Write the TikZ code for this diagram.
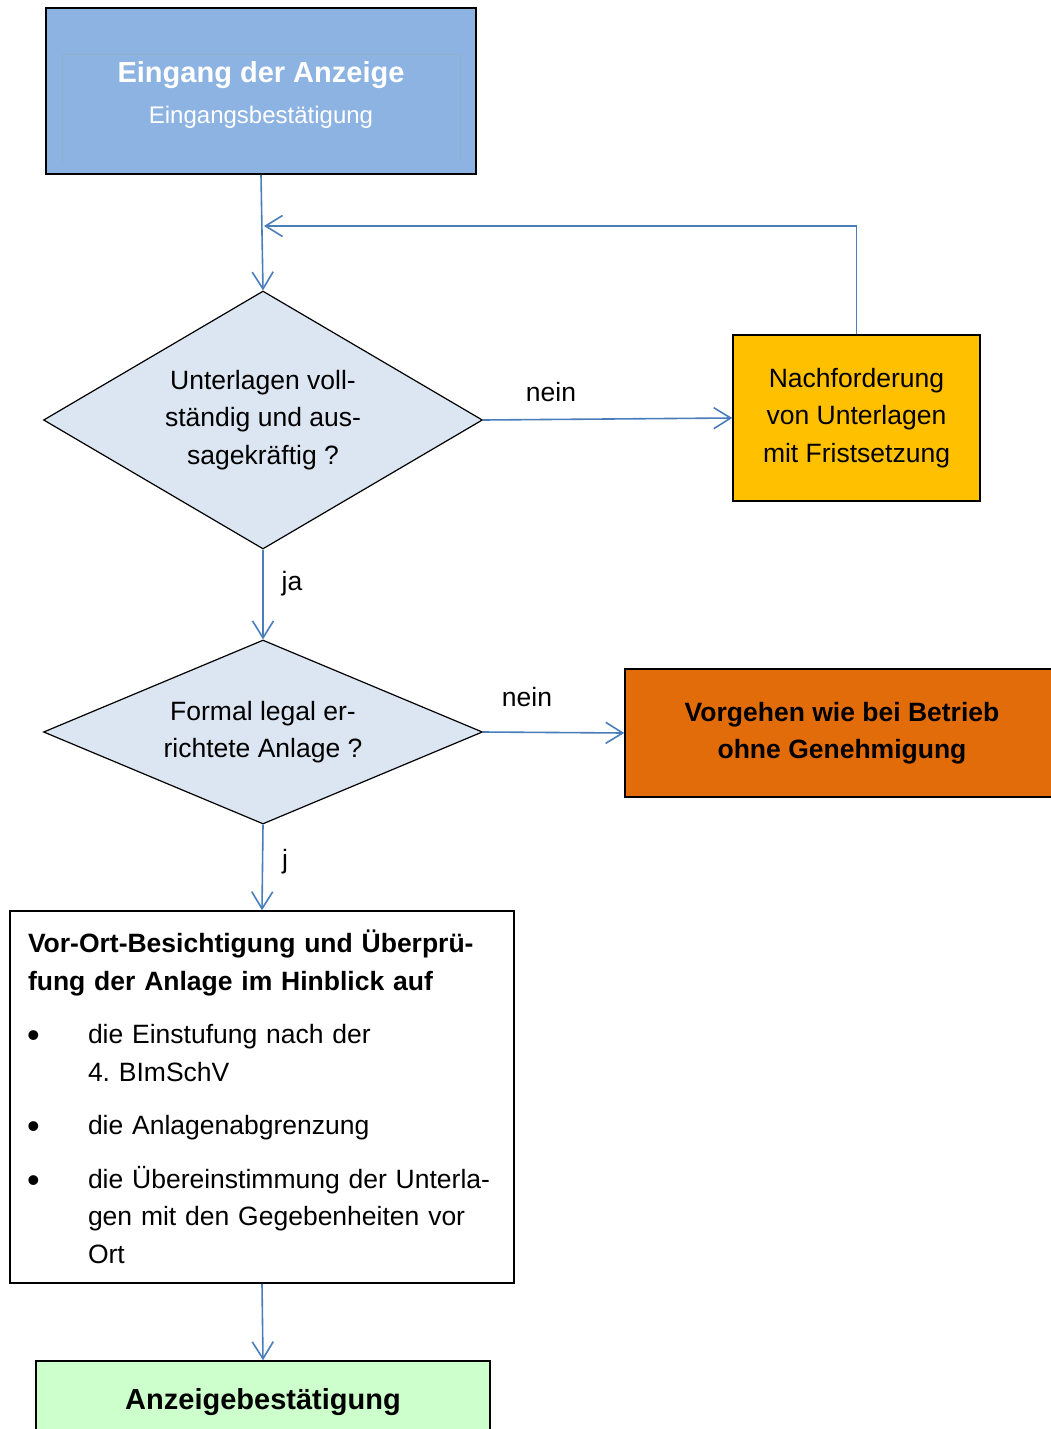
\documentclass[tikz,border=0pt]{standalone}
\usepackage{fontspec}
\setmainfont{Liberation Sans}
\usetikzlibrary{shapes.geometric}
\usetikzlibrary{arrows.meta}
\definecolor{eingangblau}{RGB}{141,179,226}
\definecolor{rautenblau}{RGB}{220,230,242}
\definecolor{gelb}{RGB}{255,192,0}
\definecolor{orange}{RGB}{227,108,10}
\definecolor{gruen}{RGB}{204,255,204}
\definecolor{pfeilblau}{RGB}{74,126,187}
\tikzset{box/.style={draw=black,line width=1.5pt,rectangle,inner sep=0pt,align=center,
    font=\fontsize{26.5}{37.5}\selectfont}}
\tikzset{raute/.style={draw=black,line width=1.2pt,diamond,fill=rautenblau,inner sep=0pt,align=center,
    font=\fontsize{26.5}{37.5}\selectfont}}
\tikzset{pfeil/.style={draw=pfeilblau,line width=1.6pt,-{Straight Barb[length=17pt,width=21pt,line width=1.6pt]}}}
\tikzset{marke/.style={font=\fontsize{26.5}{32}\selectfont}}
\newcommand{\einzug}{\makebox[60pt][l]{\hspace*{-1pt}\raisebox{-4pt}{\fontsize{36}{36}\selectfont\textbullet}}}

\begin{document}
\begin{tikzpicture}[x=1pt,y=-1pt]
                \useasboundingbox (0,0) rectangle (1051,1429);

                % Kaesten
                \node[box,fill=eingangblau,minimum width=430,minimum height=166] (eingang) at (261,91) {};
                \draw[color=eingangblau!85!black!80,line width=0.8pt] (62,164) -- (62,54) -- (460,54) -- (460,164);
                \node[align=center,text=white,inner sep=0pt,font=\fontsize{24}{35}\selectfont] (eingangtext) at (261,95)
                    {{\fontsize{29}{35}\selectfont\bfseries Eingang der Anzeige}\\[6pt]
                     Eingangsbestätigung};

                \node[raute,shape aspect=1.7,minimum width=439,minimum height=258] (pruef) at (263,420)
                    {Unterlagen voll-\\ständig und aus-\\sagekräftig ?};
                \node[box,fill=gelb,minimum width=247,minimum height=166] (nachf) at (856.5,418)
                    {Nachforderung\\von Unterlagen\\mit Fristsetzung};

                \node[raute,shape aspect=2.39,minimum width=439,minimum height=184] (legal) at (263,732)
                    {Formal legal er-\\richtete Anlage ?};
                \node[box,fill=orange,minimum width=434,minimum height=128,font=\fontsize{26.5}{37.5}\selectfont\bfseries] (vorgehen) at (842,733)
                    {Vorgehen wie bei Betrieb\\ohne Genehmigung};

                \node[box,fill=white,text width=468,inner xsep=18pt,minimum height=372,align=left] (besicht) at (262,1097)
                    {\textbf{Vor-Ort-Besichtigung und Überprü-}\\
                     \textbf{fung der Anlage im Hinblick auf}\\[16pt]
                     \einzug die Einstufung nach der\\
                     \hspace*{60pt}4.\ BImSchV\\[16pt]
                     \einzug die Anlagenabgrenzung\\[16pt]
                     \einzug die Übereinstimmung der Unterla-\\
                     \hspace*{60pt}gen mit den Gegebenheiten vor\\
                     \hspace*{60pt}Ort};

                \node[box,fill=gruen,minimum width=454,minimum height=82,font=\fontsize{29}{35}\selectfont\bfseries] (bestaet) at (263,1402)
                    {Anzeigebestätigung};

                % Pfeile
                \coordinate (rueck) at (264,226);
                \draw[pfeil] (eingang.south) -- (pruef.north);
                \draw[pfeil] (nachf.north) |- (rueck);
                \draw[pfeil] (pruef.east) -- (nachf.west);
                \draw[pfeil] (pruef.south) -- (legal.north);
                \draw[pfeil] (legal.east) -- (vorgehen.west);
                \draw[pfeil] (legal.south) -- (besicht.north);
                \draw[pfeil] (besicht.south) -- (bestaet.north);

                % Labels
                \node[marke] (nein1) at (551,392) {nein};
                \node[marke] (ja) at (292,584) {ja};
                \node[marke] (nein2) at (527,697) {nein};
                \node[marke] (j) at (285,862) {j};
            \end{tikzpicture}
\end{document}
